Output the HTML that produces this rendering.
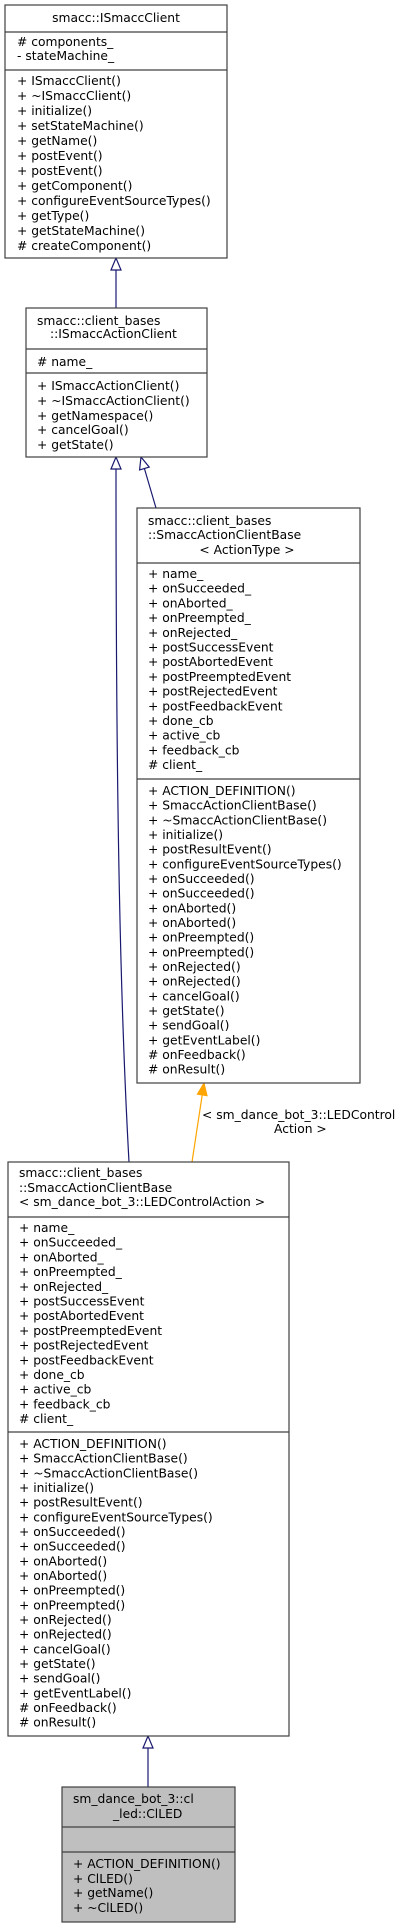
<!DOCTYPE html>
<html><head><meta charset="utf-8"><style>
html,body{margin:0;padding:0;background:#fff;}
svg{display:block;}
text{font-family:"DejaVu Sans","Liberation Sans",sans-serif;font-size:12.3px;fill:#000;}
.b{fill:#fff;stroke:#404040;stroke-width:1.2;}
.g{fill:#bfbfbf;stroke:#404040;stroke-width:1.2;}
.d{stroke:#404040;stroke-width:1.2;}
.e{fill:none;stroke:#191970;stroke-width:1.2;}
.t{fill:#fff;stroke:#191970;stroke-width:1.2;}
</style></head><body>
<svg width="411" height="1928" viewBox="0 0 411 1928" xmlns="http://www.w3.org/2000/svg">
<!-- edges -->
<line class="e" x1="116" y1="270" x2="116" y2="308"/>
<polygon class="t" points="116,258 111,270 121,270"/>
<path class="e" d="M116,469 C116,800 120,1000 129,1162"/>
<polygon class="t" points="116,457 111,469 121,469"/>
<line class="e" x1="144.4" y1="468.5" x2="156" y2="508"/>
<polygon class="t" points="141,457 149.2,467.1 139.6,469.9"/>
<line class="e" x1="148" y1="1748" x2="148" y2="1787"/>
<polygon class="t" points="148,1736 143,1748 153,1748"/>
<line x1="202.2" y1="1095" x2="192" y2="1162" stroke="#ffa500" stroke-width="1.2"/>
<polygon points="204,1083 207.1,1095.8 197.3,1094.3" fill="#ffa500" stroke="#ffa500"/>
<text x="202" y="1119">&lt; sm_dance_bot_3::LEDControl</text>
<text x="274" y="1133">Action &gt;</text>

<!-- box1 -->
<rect class="b" x="5" y="5" width="222" height="253"/>
<line class="d" x1="5" y1="32" x2="227" y2="32"/>
<line class="d" x1="5" y1="70" x2="227" y2="70"/>
<text x="116" y="22" text-anchor="middle">smacc::ISmaccClient</text>
<text x="17" y="46"># components_</text>
<text x="17" y="60">- stateMachine_</text>
<text x="17" y="85">+ ISmaccClient()</text>
<text x="17" y="100">+ ~ISmaccClient()</text>
<text x="17" y="115">+ initialize()</text>
<text x="17" y="130">+ setStateMachine()</text>
<text x="17" y="145">+ getName()</text>
<text x="17" y="160">+ postEvent()</text>
<text x="17" y="175">+ postEvent()</text>
<text x="17" y="190">+ getComponent()</text>
<text x="17" y="205">+ configureEventSourceTypes()</text>
<text x="17" y="220">+ getType()</text>
<text x="17" y="235">+ getStateMachine()</text>
<text x="17" y="250"># createComponent()</text>

<!-- box2 -->
<rect class="b" x="26" y="308" width="181" height="149"/>
<line class="d" x1="26" y1="349" x2="207" y2="349"/>
<line class="d" x1="26" y1="373" x2="207" y2="373"/>
<text x="37" y="325">smacc::client_bases</text>
<text x="50" y="338">::ISmaccActionClient</text>
<text x="37" y="366"># name_</text>
<text x="37" y="390">+ ISmaccActionClient()</text>
<text x="37" y="405">+ ~ISmaccActionClient()</text>
<text x="37" y="420">+ getNamespace()</text>
<text x="37" y="434">+ cancelGoal()</text>
<text x="37" y="449">+ getState()</text>

<!-- box3 -->
<rect class="b" x="137" y="508" width="223" height="575"/>
<line class="d" x1="137" y1="563" x2="360" y2="563"/>
<line class="d" x1="137" y1="779" x2="360" y2="779"/>
<text x="148" y="525">smacc::client_bases</text>
<text x="148" y="539">::SmaccActionClientBase</text>
<text x="247" y="554" text-anchor="middle">&lt; ActionType &gt;</text>
<text x="148" y="578">+ name_</text>
<text x="148" y="592.7">+ onSucceeded_</text>
<text x="148" y="607.4">+ onAborted_</text>
<text x="148" y="622.1">+ onPreempted_</text>
<text x="148" y="636.8">+ onRejected_</text>
<text x="148" y="651.5">+ postSuccessEvent</text>
<text x="148" y="666.2">+ postAbortedEvent</text>
<text x="148" y="680.9">+ postPreemptedEvent</text>
<text x="148" y="695.6">+ postRejectedEvent</text>
<text x="148" y="710.3">+ postFeedbackEvent</text>
<text x="148" y="725">+ done_cb</text>
<text x="148" y="739.7">+ active_cb</text>
<text x="148" y="754.4">+ feedback_cb</text>
<text x="148" y="769.1"># client_</text>
<text x="148" y="795">+ ACTION_DEFINITION()</text>
<text x="148" y="809.7">+ SmaccActionClientBase()</text>
<text x="148" y="824.3">+ ~SmaccActionClientBase()</text>
<text x="148" y="839">+ initialize()</text>
<text x="148" y="853.7">+ postResultEvent()</text>
<text x="148" y="868.3">+ configureEventSourceTypes()</text>
<text x="148" y="883">+ onSucceeded()</text>
<text x="148" y="897.7">+ onSucceeded()</text>
<text x="148" y="912.3">+ onAborted()</text>
<text x="148" y="927">+ onAborted()</text>
<text x="148" y="941.7">+ onPreempted()</text>
<text x="148" y="956.3">+ onPreempted()</text>
<text x="148" y="971">+ onRejected()</text>
<text x="148" y="985.7">+ onRejected()</text>
<text x="148" y="1000.3">+ cancelGoal()</text>
<text x="148" y="1015">+ getState()</text>
<text x="148" y="1029.7">+ sendGoal()</text>
<text x="148" y="1044.3">+ getEventLabel()</text>
<text x="148" y="1059"># onFeedback()</text>
<text x="148" y="1073.7"># onResult()</text>

<!-- box4 -->
<rect class="b" x="8" y="1162" width="281" height="574"/>
<line class="d" x1="8" y1="1217" x2="289" y2="1217"/>
<line class="d" x1="8" y1="1432" x2="289" y2="1432"/>
<text x="19" y="1177">smacc::client_bases</text>
<text x="19" y="1192">::SmaccActionClientBase</text>
<text x="19" y="1206">&lt; sm_dance_bot_3::LEDControlAction &gt;</text>
<text x="19" y="1232">+ name_</text>
<text x="19" y="1246.7">+ onSucceeded_</text>
<text x="19" y="1261.4">+ onAborted_</text>
<text x="19" y="1276.1">+ onPreempted_</text>
<text x="19" y="1290.8">+ onRejected_</text>
<text x="19" y="1305.5">+ postSuccessEvent</text>
<text x="19" y="1320.2">+ postAbortedEvent</text>
<text x="19" y="1334.9">+ postPreemptedEvent</text>
<text x="19" y="1349.6">+ postRejectedEvent</text>
<text x="19" y="1364.3">+ postFeedbackEvent</text>
<text x="19" y="1379">+ done_cb</text>
<text x="19" y="1393.7">+ active_cb</text>
<text x="19" y="1408.4">+ feedback_cb</text>
<text x="19" y="1423.1"># client_</text>
<text x="19" y="1448">+ ACTION_DEFINITION()</text>
<text x="19" y="1462.7">+ SmaccActionClientBase()</text>
<text x="19" y="1477.3">+ ~SmaccActionClientBase()</text>
<text x="19" y="1492">+ initialize()</text>
<text x="19" y="1506.7">+ postResultEvent()</text>
<text x="19" y="1521.3">+ configureEventSourceTypes()</text>
<text x="19" y="1536">+ onSucceeded()</text>
<text x="19" y="1550.7">+ onSucceeded()</text>
<text x="19" y="1565.3">+ onAborted()</text>
<text x="19" y="1580">+ onAborted()</text>
<text x="19" y="1594.7">+ onPreempted()</text>
<text x="19" y="1609.3">+ onPreempted()</text>
<text x="19" y="1624">+ onRejected()</text>
<text x="19" y="1638.7">+ onRejected()</text>
<text x="19" y="1653.3">+ cancelGoal()</text>
<text x="19" y="1668">+ getState()</text>
<text x="19" y="1682.7">+ sendGoal()</text>
<text x="19" y="1697.3">+ getEventLabel()</text>
<text x="19" y="1712"># onFeedback()</text>
<text x="19" y="1726.7"># onResult()</text>

<!-- box5 -->
<rect class="g" x="62" y="1787" width="173" height="135"/>
<line class="d" x1="62" y1="1827" x2="235" y2="1827"/>
<line class="d" x1="62" y1="1852" x2="235" y2="1852"/>
<text x="73" y="1803">sm_dance_bot_3::cl</text>
<text x="113" y="1818">_led::ClLED</text>
<text x="73" y="1868">+ ACTION_DEFINITION()</text>
<text x="73" y="1883">+ ClLED()</text>
<text x="73" y="1897">+ getName()</text>
<text x="73" y="1912">+ ~ClLED()</text>
</svg>
</body></html>
